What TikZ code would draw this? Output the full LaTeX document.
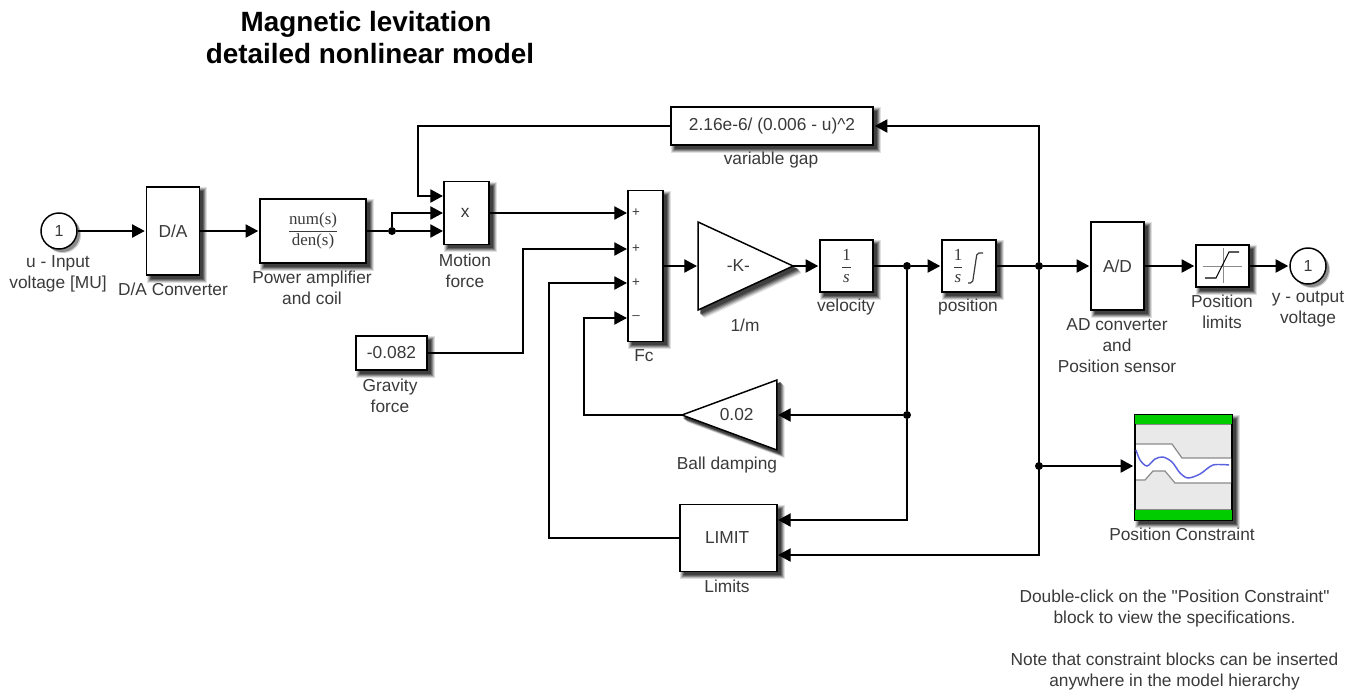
\documentclass[tikz,border=0pt]{standalone}
\usepackage{amsmath}
\usepackage{fontspec}
\setmainfont{Liberation Sans}
\newfontfamily\blockserif{Liberation Serif}
\newfontfamily\notefont{Liberation Sans}
\usetikzlibrary{shapes.geometric, arrows.meta, positioning, backgrounds, calc}

\definecolor{labelgray}{HTML}{3A3A3A}
\definecolor{limitgreen}{HTML}{00CC00}
\definecolor{boundgray}{HTML}{E9E9E9}
\definecolor{tracegray}{HTML}{8A8A8A}
\definecolor{traceblue}{HTML}{5A62E0}

\begin{document}
\begin{tikzpicture}[
    x=0.75pt, y=-0.75pt,
    blocksize/.style 2 args={minimum width=#1*0.75pt, minimum height=#2*0.75pt},
    blockbox/.style={rectangle, draw=black, line width=1.1pt, fill=white, inner sep=0pt, align=center,
        text=labelgray, font=\fontsize{13}{15.7}\selectfont},
    gaintri/.style={isosceles triangle, isosceles triangle stretches, draw=black, line width=1.1pt, fill=white, inner sep=0pt,
        text=labelgray, font=\fontsize{13}{15.7}\selectfont},
    portcircle/.style={circle, draw=black, line width=1.1pt, fill=white, inner sep=0pt, minimum size=27pt,
        text=labelgray, font=\fontsize{12}{13}\selectfont},
    blocklabel/.style={align=center, inner sep=0pt, text=labelgray, font=\fontsize{13}{15.7}\selectfont},
    signline/.style={draw, black, line width=1pt, -{Triangle[length=9.5pt, width=10pt]}, shorten >=0.8pt},
    plainline/.style={draw, black, line width=1pt},
    junction/.style={circle, fill=black, inner sep=0pt, minimum size=6pt},
    signmark/.style={inner sep=0pt, text=labelgray, font=\fontsize{10}{10}\selectfont}
]
\useasboundingbox (0,0) rectangle (1356,690);

% --- Title ---
\node[align=center, inner sep=0pt, font=\fontsize{20.9}{24}\selectfont\bfseries] (title) at (370,38) {Magnetic levitation\hspace*{6pt}\\detailed nonlinear model};

% --- Forward path blocks ---
\node[portcircle] (inport) at (59,231) {1};
\node[blockbox, blocksize={53}{88}] (dac) at (173,231) {D/A};
\node[blockbox, blocksize={106}{64}] (amp) at (313,231) {\fontsize{12.7}{14}\selectfont$\dfrac{\text{\blockserif num(s)}}{\text{\blockserif den(s)}}$};
\node[blockbox, blocksize={45}{63}] (motion) at (466.5,213) {x\hspace*{2pt}};
\node[blockbox, blocksize={35}{151}] (fc) at (645.5,266) {};
\node[gaintri, blocksize={88}{95}, anchor=apex] (gain) at (795,266) {\hspace*{12pt}-K-};
\node[blockbox, blocksize={53}{52}] (velocity) at (846.5,266) {\fontsize{12.7}{14}\selectfont$\dfrac{\text{\blockserif 1}}{\text{\blockserif\itshape s}}$};
\node[blockbox, blocksize={54}{52}] (integ) at (969,266) {};
\node[inner sep=0pt, text=labelgray, font=\fontsize{12.7}{14}\selectfont] (integfrac) at (958,266) {$\dfrac{\text{\blockserif 1}}{\text{\blockserif\itshape s}}$};
\node[blockbox, blocksize={53}{88}] (adc) at (1117.5,266) {A/D};
\node[blockbox, blocksize={53}{42}] (sat) at (1222.5,266) {};
\node[portcircle] (outport) at (1308,266) {1};

% --- Other blocks ---
\node[blockbox, blocksize={202}{38}] (gap) at (772,126) {2.16e-6/ (0.006 - u)\textasciicircum 2};
\node[blockbox, blocksize={71}{34}] (gravity) at (391.5,353) {-0.082};
\node[gaintri, shape border rotate=180, blocksize={70}{95}, anchor=apex] (damping) at (680,415) {0.02\hspace*{12pt}};
\node[blockbox, blocksize={97}{67}] (limit) at (728.5,538) {LIMIT\hspace*{2pt}};
\node[blockbox, blocksize={97}{105}] (constraint) at (1183.5,467.5) {};

% --- Shadows ---
\begin{pgfonlayer}{background}
\foreach \d/\tone in {7/12, 6/28, 5/46, 4/62, 3/75} {
    \foreach \n in {dac, amp, motion, fc, velocity, integ, adc, sat, gap, gravity, limit, constraint} {
        \fill[black!\tone] ($(\n.north west)+(8-\d,8-\d)$) rectangle ($(\n.south east)+(\d,\d)$);
    }
    \foreach \n in {gain, damping} {
        \fill[black!\tone] ($(\n.apex)+(\d,\d)$) -- ($(\n.left corner)+(\d,\d)$) -- ($(\n.right corner)+(\d,\d)$) -- cycle;
    }
}
\foreach \d/\tone in {4/20, 3/45} {
    \foreach \n in {inport, outport} {
        \fill[black!\tone] ($(\n.center)+(\d,\d)$) circle[radius=13.5pt];
    }
}
\end{pgfonlayer}

% Integrator and saturation icons
\draw[labelgray, line width=0.9pt, rounded corners=1.5pt] (968,283) -- (972.5,283) -- (977,253) -- (983,253);
\draw[tracegray, line width=0.5pt] (1223,248) -- (1223,283) (1203,266) -- (1242,266);
\draw[black, line width=0.8pt] (1205,278) -- (1216,278) -- (1229,252) -- (1239,252);

% Constraint icon
\fill[boundgray] (1136,424) rectangle (1231,510);
\fill[white] (1136,444) -- (1172,444) -- (1182,458) -- (1231,458) -- (1231,483) -- (1175,483) -- (1165,471) -- (1153,471) -- (1145,480) -- (1136,480) -- cycle;
\fill[limitgreen] (1135,415) rectangle (1232,424);
\fill[limitgreen] (1135,510) rectangle (1232,520);
\draw[tracegray, line width=0.9pt] (1136,444) -- (1172,444) -- (1182,458) -- (1231,458);
\draw[tracegray, line width=0.9pt] (1136,480) -- (1145,480) -- (1153,471) -- (1165,471) -- (1175,483) -- (1231,483);
\draw[tracegray, line width=0.7pt] (1136,424.5) -- (1231,424.5) (1136,509.5) -- (1231,509.5);
\draw[traceblue, line width=1.1pt] plot[smooth] coordinates {(1136,450) (1140,460) (1147,466) (1155,459) (1163,457) (1172,462) (1180,473) (1188,478) (1200,474) (1213,465) (1229,465)};
\draw[black, line width=1.1pt] (constraint.north west) rectangle (constraint.south east);

% --- Ports ---
\foreach \i/\y in {1/196, 2/213, 3/231} {
    \coordinate (motion\i) at (444,\y);
}
\foreach \i/\y/\s in {1/213/+, 2/249/+, 3/283/+, 4/318/{--}} {
    \coordinate (fc\i) at (628,\y);
    \node[signmark] (fcsign\i) at (636,\y) {\s};
}
\coordinate (gainin) at (698,266);
\coordinate (dampin) at (777,415);
\coordinate (limit1) at (777,520);
\coordinate (limit2) at (777,555);

% --- Junctions and corners ---
\node[junction] (ampdot) at (392,231) {};
\node[junction] (veldot) at (907,266) {};
\node[junction] (dampdot) at (907,415) {};
\node[junction] (posdot) at (1039,266) {};
\node[junction] (condot) at (1039,466) {};
\coordinate (gapcorner) at (418,196);
\coordinate (ampcorner) at (392,213);
\coordinate (gravcorner) at (523,249);
\coordinate (limcorner) at (549,283);
\coordinate (dampcorner) at (584,318);

% --- Forward path ---
\draw[signline] (inport) -- (dac);
\draw[signline] (dac) -- (amp);
\draw[plainline] (amp) -- (ampdot);
\draw[signline] (ampdot) -- (motion3);
\draw[signline] (ampdot) -- (ampcorner) -- (motion2);
\draw[signline] (motion.east) -- (fc1);
\draw[signline] (fc.east) -- (gainin);
\draw[signline, shorten <=-2pt] (gain.apex) -- (velocity);
\draw[plainline] (velocity) -- (veldot);
\draw[signline] (veldot) -- (integ);
\draw[plainline] (integ) -- (posdot);
\draw[signline] (posdot) -- (adc);
\draw[signline] (adc) -- (sat);
\draw[signline] (sat) -- (outport);

% --- Feedback ---
\draw[signline] (posdot) |- (gap.east);
\draw[signline] (gap.west) -| (gapcorner) -- (motion1);
\draw[signline] (gravity.east) -| (gravcorner) -- (fc2);
\draw[signline] (limit.west) -| (limcorner) -- (fc3);
\draw[signline, shorten <=-2pt] (damping.apex) -| (dampcorner) -- (fc4);
\draw[plainline] (veldot) -- (dampdot);
\draw[signline] (dampdot) -- (dampin);
\draw[signline] (dampdot) |- (limit1);
\draw[signline] (posdot) |- (limit2);
\draw[signline] (condot) -- (constraint.west |- condot);

% --- Labels ---
\node[blocklabel] (inportlabel) at (58,273.5) {u - Input\\voltage [MU]};
\node[blocklabel] (daclabel) at (173,289) {D/A Converter};
\node[blocklabel] (amplabel) at (312,288) {Power amplifier\\and coil};
\node[blocklabel] (motionlabel) at (465,270.5) {Motion\\force};
\node[blocklabel] (fclabel) at (644,356) {Fc};
\node[blocklabel] (gainlabel) at (745,325) {1/m};
\node[blocklabel] (velocitylabel) at (846,307) {velocity};
\node[blocklabel] (integlabel) at (968,307) {position};
\node[blocklabel] (gaplabel) at (771,160) {variable gap};
\node[blocklabel] (gravitylabel) at (390,396) {Gravity\\force};
\node[blocklabel] (dampinglabel) at (727,465) {Ball damping};
\node[blocklabel] (limitlabel) at (727,586) {Limits};
\node[blocklabel] (constraintlabel) at (1182,534) {Position Constraint};
\node[blocklabel] (adclabel) at (1117,346) {AD converter\\and\\Position sensor};
\node[blocklabel] (satlabel) at (1222,312) {Position\\limits};
\node[blocklabel] (outportlabel) at (1308,309.5) {y - output\\voltage};
\node[blocklabel] (note) at (1174.5,640) {\notefont Double-click on the "Position Constraint"\\\notefont block to view the specifications.\\[15.7pt]\notefont Note that constraint blocks can be inserted\\\notefont anywhere in the model hierarchy};

\end{tikzpicture}
\end{document}
